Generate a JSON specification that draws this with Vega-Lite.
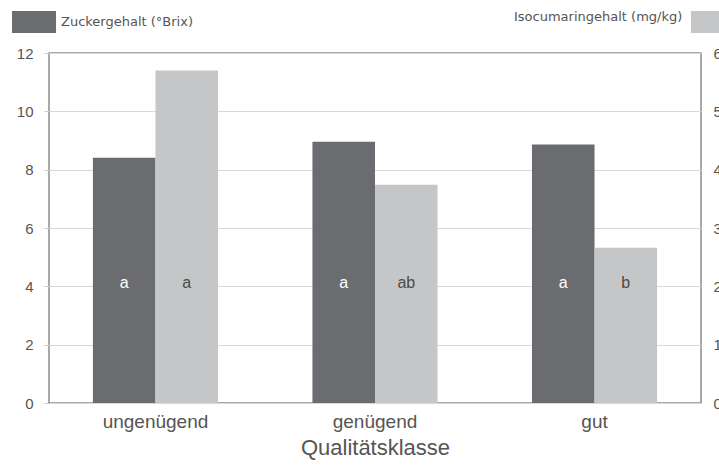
{
  "$schema": "https://vega.github.io/schema/vega-lite/v6.json",
  "width": 652,
  "height": 350,
  "autosize": {"type": "none"},
  "padding": {"left": 49, "top": 53, "right": 18, "bottom": 64},
  "background": "white",
  "config": {
    "font": "Liberation Sans",
    "view": {"stroke": "#8c8c8c", "strokeWidth": 1.5},
    "axis": {"labelColor": "#555555", "titleColor": "#555555", "titleFontWeight": "normal"}
  },
  "data": {
    "values": [
      {"Klasse": "ungenügend", "Serie": "Zuckergehalt (°Brix)", "Wert": 8.41, "Buchstabe": "a"},
      {"Klasse": "ungenügend", "Serie": "Isocumaringehalt (mg/kg)", "Wert": 5.70, "Buchstabe": "a"},
      {"Klasse": "genügend", "Serie": "Zuckergehalt (°Brix)", "Wert": 8.96, "Buchstabe": "a"},
      {"Klasse": "genügend", "Serie": "Isocumaringehalt (mg/kg)", "Wert": 3.74, "Buchstabe": "ab"},
      {"Klasse": "gut", "Serie": "Zuckergehalt (°Brix)", "Wert": 8.86, "Buchstabe": "a"},
      {"Klasse": "gut", "Serie": "Isocumaringehalt (mg/kg)", "Wert": 2.66, "Buchstabe": "b"}
    ]
  },
  "encoding": {
    "x": {
      "field": "Klasse",
      "type": "nominal",
      "sort": ["ungenügend", "genügend", "gut"],
      "scale": {"paddingInner": 0.43, "paddingOuter": 0.2},
      "axis": {
        "title": "Qualitätsklasse",
        "labelAngle": 0,
        "ticks": false,
        "domain": false,
        "labelFontSize": 19,
        "labelPadding": 9,
        "titleFontSize": 22,
        "titlePadding": 6
      }
    },
    "xOffset": {
      "field": "Serie",
      "type": "nominal",
      "scale": {"domain": ["Zuckergehalt (°Brix)", "Isocumaringehalt (mg/kg)"], "paddingInner": 0, "paddingOuter": 0}
    }
  },
  "layer": [
    {
      "transform": [{"filter": "datum.Serie === 'Zuckergehalt (°Brix)'"}],
      "mark": {"type": "bar"},
      "encoding": {
        "y": {
          "field": "Wert",
          "type": "quantitative",
          "scale": {"domain": [0, 12], "nice": false},
          "axis": {
            "title": null,
            "values": [0, 2, 4, 6, 8, 10, 12],
            "grid": true,
            "gridColor": "#d8d8d8",
            "gridWidth": 1.2,
            "domain": false,
            "tickColor": "#cccccc",
            "tickSize": 5,
            "labelPadding": 11,
            "labelFontSize": 15
          }
        },
        "color": {
          "field": "Serie",
          "type": "nominal",
          "scale": {"domain": ["Zuckergehalt (°Brix)"], "range": ["#6b6c70"]},
          "legend": {
            "orient": "none",
            "legendX": -37,
            "legendY": -53,
            "title": null,
            "padding": 0,
            "symbolType": "M-1,-0.5H1V0.5H-1Z",
            "symbolSize": 1936,
            "symbolStrokeWidth": 0,
            "symbolOpacity": 1,
            "labelFont": "DejaVu Sans",
            "labelFontSize": 13,
            "labelColor": "#555555",
            "labelOffset": 5
          }
        }
      }
    },
    {
      "transform": [{"filter": "datum.Serie === 'Isocumaringehalt (mg/kg)'"}],
      "mark": {"type": "bar"},
      "encoding": {
        "y": {
          "field": "Wert",
          "type": "quantitative",
          "scale": {"domain": [0, 6], "nice": false},
          "axis": {
            "orient": "right",
            "title": null,
            "values": [0, 1, 2, 3, 4, 5, 6],
            "grid": false,
            "domain": false,
            "ticks": false,
            "labelPadding": 12,
            "labelFontSize": 15
          }
        },
        "color": {
          "field": "Serie",
          "type": "nominal",
          "scale": {"domain": ["Isocumaringehalt (mg/kg)"], "range": ["#c5c6c8"]},
          "legend": {
            "orient": "none",
            "legendX": 465,
            "legendY": -53,
            "title": "Isocumaringehalt (mg/kg)",
            "titleOrient": "left",
            "titleFont": "DejaVu Sans",
            "titleFontSize": 13,
            "titleFontWeight": "normal",
            "titleColor": "#555555",
            "titlePadding": 8,
            "titleBaseline": "middle",
            "padding": 0,
            "labelExpr": "''",
            "symbolType": "M-1,-0.5H1V0.5H-1Z",
            "symbolSize": 1936,
            "symbolStrokeWidth": 0,
            "symbolOpacity": 1
          }
        }
      }
    },
    {
      "mark": {"type": "text", "baseline": "middle", "align": "center", "fontSize": 16},
      "encoding": {
        "y": {"datum": 4.1, "type": "quantitative", "scale": {"domain": [0, 12], "nice": false}, "axis": null},
        "text": {"field": "Buchstabe"},
        "color": {
          "condition": {"test": "datum.Serie === 'Zuckergehalt (°Brix)'", "value": "#ffffff"},
          "value": "#4a4a4a"
        }
      }
    }
  ],
  "resolve": {"scale": {"y": "independent", "color": "independent"}}
}
